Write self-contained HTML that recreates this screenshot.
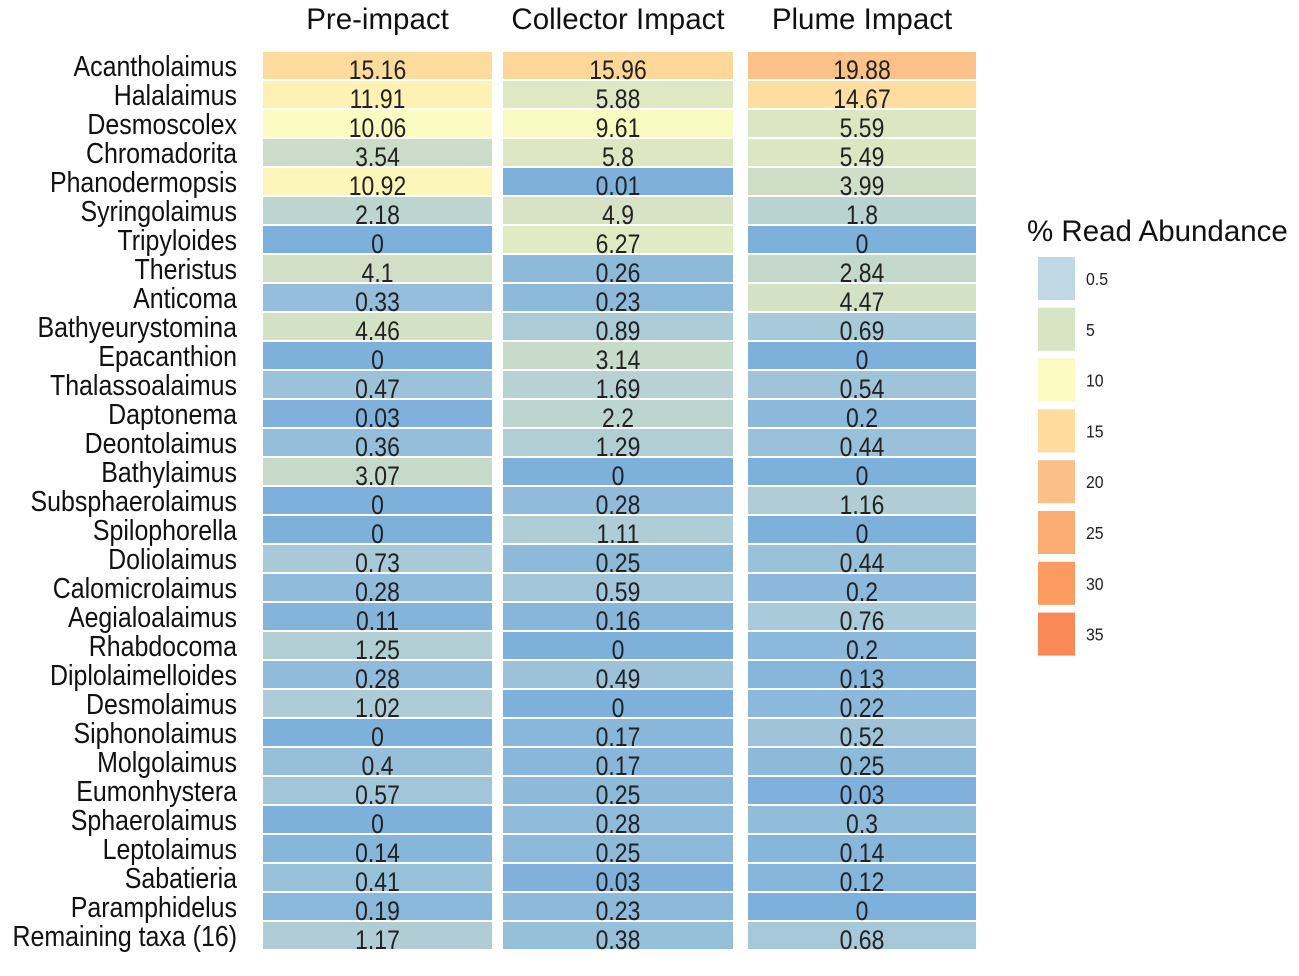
<!DOCTYPE html>
<html><head><meta charset="utf-8"><style>
html,body{margin:0;padding:0;background:#fff;}
svg text{font-family:"Liberation Sans",sans-serif;}
</style></head><body>
<svg id="chart" width="1299" height="971" xmlns="http://www.w3.org/2000/svg"></svg>
<script>
const taxa=["Acantholaimus","Halalaimus","Desmoscolex","Chromadorita","Phanodermopsis","Syringolaimus","Tripyloides","Theristus","Anticoma","Bathyeurystomina","Epacanthion","Thalassoalaimus","Daptonema","Deontolaimus","Bathylaimus","Subsphaerolaimus","Spilophorella","Doliolaimus","Calomicrolaimus","Aegialoalaimus","Rhabdocoma","Diplolaimelloides","Desmolaimus","Siphonolaimus","Molgolaimus","Eumonhystera","Sphaerolaimus","Leptolaimus","Sabatieria","Paramphidelus","Remaining taxa (16)"];
const groups=["Pre-impact","Collector Impact","Plume Impact"];
const preImpact=[15.16,11.91,10.06,3.54,10.92,2.18,0,4.1,0.33,4.46,0,0.47,0.03,0.36,3.07,0,0,0.73,0.28,0.11,1.25,0.28,1.02,0,0.4,0.57,0,0.14,0.41,0.19,1.17];
const collectorImpact=[15.96,5.88,9.61,5.8,0.01,4.9,6.27,0.26,0.23,0.89,3.14,1.69,2.2,1.29,0,0.28,1.11,0.25,0.59,0.16,0,0.49,0,0.17,0.17,0.25,0.28,0.25,0.03,0.23,0.38];
const plumeImpact=[19.88,14.67,5.59,5.49,3.99,1.8,0,2.84,4.47,0.69,0,0.54,0.2,0.44,0,1.16,0,0.44,0.2,0.76,0.2,0.13,0.22,0.52,0.25,0.03,0.3,0.14,0.12,0,0.68];
const legendLabels=["0.5","5","10","15","20","25","30","35"];
const legendValues=[0.5,5,10,15,20,25,30,35];

const stops=[[0,[126,176,220]],[0.3,[145,188,218]],[0.7,[168,201,216]],[1.5,[182,208,212]],[3,[198,218,202]],[5.5,[220,230,194]],[10,[252,251,194]],[12,[253,241,178]],[15,[253,220,158]],[20,[251,192,136]],[25,[251,172,112]],[30,[250,155,96]],[35,[249,138,88]]];
function color(v){
  if(v<=stops[0][0])return rgb(stops[0][1]);
  for(let i=1;i<stops.length;i++){
    if(v<=stops[i][0]){const a=stops[i-1],b=stops[i];const t=(v-a[0])/(b[0]-a[0]);
      return rgb(a[1].map((c,k)=>c+(b[1][k]-c)*t));}
  }
  return rgb(stops[stops.length-1][1]);
}
function legendColor(v){return v===0.5?'rgb(192,216,228)':color(v);}
function rgb(a){return `rgb(${a.map(Math.round).join(',')})`;}
const NS="http://www.w3.org/2000/svg";
const svg=document.getElementById('chart');
function el(tag,attrs,txt){const e=document.createElementNS(NS,tag);for(const k in attrs)e.setAttribute(k,attrs[k]);if(txt!==undefined)e.textContent=txt;svg.appendChild(e);return e;}
const colX=[263,503,748], colW=[229,230,228];
const y0=52, pitch=29.0, cellH=27;
function yPos(i){return y0+i*pitch;}
const series=[preImpact,collectorImpact,plumeImpact];
groups.forEach((g,c)=>{
  const t=el('text',{x:colX[c]+colW[c]/2,y:29,'text-anchor':'middle','font-size':29.5,fill:'#111'},g);
  
  
});
taxa.forEach((name,i)=>{
  const t=el('text',{x:0,y:0,'text-anchor':'end','font-size':29,fill:'#111',transform:`translate(237,${yPos(i)+24}) scale(0.86,1)`},name);
  
  
  series.forEach((s,c)=>{
    const r=el('rect',{x:colX[c],y:yPos(i),width:colW[c],height:cellH,fill:color(s[i])});
    
    
    const v=el('text',{x:0,y:0,'text-anchor':'middle','font-size':27,fill:'#222',transform:`translate(${colX[c]+colW[c]/2},${yPos(i)+27}) scale(0.85,1)`},String(s[i]));
    
    
  });
});
const lt=el('text',{x:1027,y:241,'font-size':29.5,fill:'#111'},'% Read Abundance');


legendValues.forEach((v,i)=>{
  const y=257+i*50.8;
  const r=el('rect',{x:1038,y:y,width:37,height:43,fill:legendColor(v)});
  
  
  const t=el('text',{x:0,y:0,'font-size':18,fill:'#222',transform:`translate(1086,${y+28}) scale(0.88,1)`},legendLabels[i]);
  
  
});
</script>
</body></html>
